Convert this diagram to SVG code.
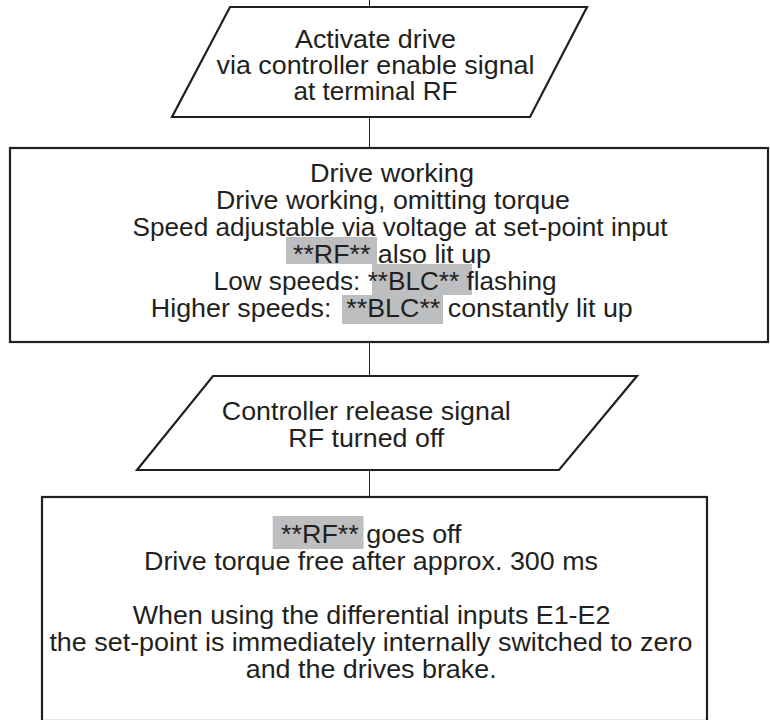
<svg xmlns="http://www.w3.org/2000/svg" width="770" height="720" viewBox="0 0 770 720">
<style>
.shape{fill:#fff;stroke:#231f20;stroke-width:2.2;stroke-linejoin:miter}
.conn{stroke:#231f20;stroke-width:1;fill:none}
.t{font-family:"Liberation Sans",Arial,sans-serif;font-size:25px;fill:#231f20;text-anchor:middle}
.n{font-family:"Liberation Sans Narrow","Liberation Sans",Arial,sans-serif;font-size:25.5px;fill:#231f20}
.hl{fill:#bcbec0}
</style>
<rect width="770" height="720" fill="#fff"/>
<g id="connectors">
<line class="conn" x1="369.5" y1="0" x2="369.5" y2="7"/>
<line class="conn" x1="369.5" y1="117" x2="369.5" y2="148"/>
<line class="conn" x1="369.5" y1="342" x2="369.5" y2="376"/>
<line class="conn" x1="369.5" y1="470" x2="369.5" y2="497"/>
</g>
<g id="activate">
<polygon class="shape" points="230,7 587,7 530,117 172,117"/>
<text class="t" x="375.5" y="48" textLength="161" lengthAdjust="spacingAndGlyphs">Activate drive</text>
<text class="t" x="375.5" y="74" textLength="318" lengthAdjust="spacingAndGlyphs">via controller enable signal</text>
<text class="t" x="375.5" y="100" textLength="164" lengthAdjust="spacingAndGlyphs">at terminal RF</text>
</g>
<g id="working">
<rect class="shape" x="10" y="148" width="758" height="194"/>
<rect class="hl" x="286" y="237" width="91" height="27"/>
<rect class="hl" x="372" y="264" width="100" height="31"/>
<rect class="hl" x="342" y="295" width="101" height="29"/>
<text class="n" x="310" y="182" textLength="164" lengthAdjust="spacingAndGlyphs">Drive working</text>
<text class="n" x="216" y="209" textLength="354" lengthAdjust="spacingAndGlyphs">Drive working, omitting torque</text>
<text class="n" x="132.6" y="236" textLength="535" lengthAdjust="spacingAndGlyphs">Speed adjustable via voltage at set-point input</text>
<text class="n" x="293" y="263" textLength="198" lengthAdjust="spacingAndGlyphs">**RF** also lit up</text>
<text class="n" x="213.6" y="290" textLength="343" lengthAdjust="spacingAndGlyphs">Low speeds: **BLC** flashing</text>
<text class="n" x="150.8" y="317" textLength="482" lengthAdjust="spacingAndGlyphs" xml:space="preserve">Higher speeds:  **BLC** constantly lit up</text>
</g>
<g id="release">
<polygon class="shape" points="213,376 637,376 559,470 137,470"/>
<text class="t" x="366.3" y="420" textLength="289" lengthAdjust="spacingAndGlyphs">Controller release signal</text>
<text class="t" x="366.3" y="446.7" textLength="156" lengthAdjust="spacingAndGlyphs">RF turned off</text>
</g>
<g id="off">
<rect class="shape" x="42" y="497" width="665" height="224"/>
<rect class="hl" x="272.7" y="516" width="90.8" height="33"/>
<text class="n" x="281" y="543" textLength="180.6" lengthAdjust="spacingAndGlyphs">**RF** goes off</text>
<text class="n" x="144" y="570" textLength="454" lengthAdjust="spacingAndGlyphs">Drive torque free after approx. 300 ms</text>
<text class="n" x="132.8" y="624" textLength="477.5" lengthAdjust="spacingAndGlyphs">When using the differential inputs E1-E2</text>
<text class="n" x="49.4" y="651" textLength="643" lengthAdjust="spacingAndGlyphs">the set-point is immediately internally switched to zero</text>
<text class="n" x="245.7" y="678" textLength="251" lengthAdjust="spacingAndGlyphs">and the drives brake.</text>
</g>
</svg>
